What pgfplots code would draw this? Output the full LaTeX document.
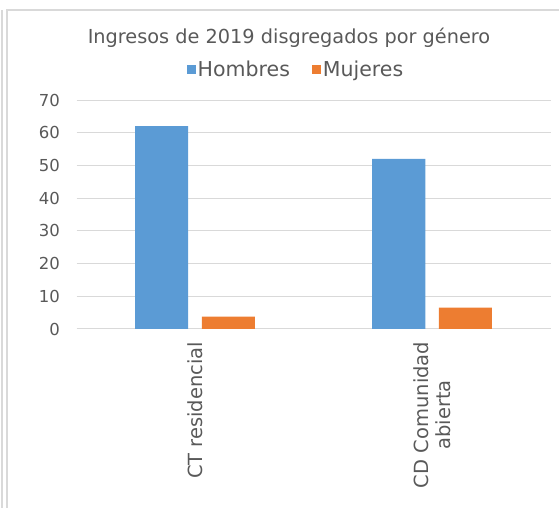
\documentclass[border=0pt]{standalone}
\usepackage{pgfplots}
\pgfplotsset{compat=1.18}
\usepackage{fontspec}
\setmainfont{DejaVu Sans}
\definecolor{txt}{HTML}{595959}
\definecolor{grd}{HTML}{D9D9D9}
\definecolor{hblue}{HTML}{5B9BD5}
\definecolor{morange}{HTML}{ED7D31}
\begin{document}
\begin{tikzpicture}
\path[use as bounding box] (0pt,0pt) rectangle (559pt,508pt);
\draw[grd, line width=1.5pt] (2pt,0pt) -- (2pt,498pt);
\draw[grd, line width=1.5pt] (7pt,0pt) -- (7pt,498pt) -- (559pt,498pt);
\node[text=txt, font=\fontsize{19.3}{22}\selectfont] at (289pt,470pt) {Ingresos de 2019 disgregados por género};
\begin{axis}[
  at={(76.5pt,179pt)}, anchor=south west,
  scale only axis, width=474pt, height=229pt,
  ybar, bar width=0.224,
  xmin=-0.5, xmax=1.5, ymin=0, ymax=70,
  ytick={0,10,...,70},
  xtick={0,1},
  xticklabels={CT residencial, {CD Comunidad\\abierta}},
  x tick label style={rotate=90, anchor=east, align=center, text=txt, font=\fontsize{19.5}{21.5}\selectfont},
  y tick label style={text=txt, font=\fontsize{16.5}{18}\selectfont},
  /pgf/number format/assume math mode=true,
  ymajorgrids, grid style={grd, line width=1pt},
  axis line style={draw=none}, major tick style={draw=none},
  yticklabel style={xshift=-13pt},
  xticklabel style={xshift=-5pt},
  legend style={at={(0.463,1.135)}, anchor=center, draw=none, fill=none, legend columns=2, text=txt, font=\fontsize{20.5}{22}\selectfont, /tikz/every even column/.append style={column sep=20pt}, /tikz/every odd column/.append style={column sep=0pt}},
  legend image code/.code={\fill[#1] (0pt,-4.5pt) rectangle (9pt,4.5pt);},
]
\addplot[fill=hblue, draw=none, bar shift=-0.1405] coordinates {(0,62) (1,52)};
\addplot[fill=morange, draw=none, bar shift=0.1405] coordinates {(0,3.8) (1,6.5)};
\legend{Hombres, Mujeres}
\end{axis}
\end{tikzpicture}
\end{document}
